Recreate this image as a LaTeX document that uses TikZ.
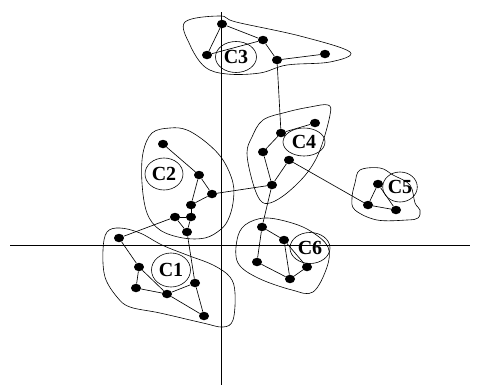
\documentclass[tikz,border=0pt]{standalone}
\usepackage{fontspec}
\setmainfont{Liberation Serif}
\usetikzlibrary{shapes.geometric}
\tikzset{
  pt/.style={ellipse,fill=black,minimum width=10pt,minimum height=8.5pt,inner sep=0pt},
  clab/.style={ellipse,draw=black,line width=0.6pt,minimum width=40pt,minimum height=31pt,
    inner sep=0pt,font=\fontsize{20}{22}\selectfont\bfseries},
  cedge/.style={line width=0.65pt},
  blob/.style={line width=0.6pt},
  axis/.style={line width=0.7pt},
}
\begin{document}
\begin{tikzpicture}[x=1pt,y=-1pt]
  \useasboundingbox (0,0) rectangle (477,391);
  % axes
  \coordinate (ytop) at (221,12);
  \coordinate (ybot) at (221,385);
  \coordinate (xl) at (10,245);
  \coordinate (xr) at (470,245);
  \draw[axis] (ytop) -- (ybot);
  \draw[axis] (xl) -- (xr);
  % cluster outlines
  \draw[blob] plot[smooth cycle,tension=0.6] coordinates {(185,22) (220,16) (236,22) (300,36)
    (350,52) (330,62) (287,65) (260,73) (227,74) (205,67) (190,45)};
  \draw[blob] plot[smooth cycle,tension=0.6] coordinates {(152,133) (170,128) (187,130) (207,143)
    (223,160) (233,183) (233,203) (228,220) (220,230) (205,238) (183,238) (160,230) (147,213)
    (142,183) (143,153)};
  \draw[blob] plot[smooth cycle,tension=0.6] coordinates {(263,120) (287,112) (310,107) (328,105)
    (330,115) (320,150) (307,173) (287,193) (270,203) (260,200) (252,180) (247,153) (252,137)};
  \draw[blob] plot[smooth cycle,tension=0.6] coordinates {(360,170) (380,168) (393,175) (410,185)
    (415,203) (420,210) (418,218) (407,220) (377,220) (355,210) (352,198) (355,183)};
  \draw[blob] plot[smooth cycle,tension=0.6] coordinates {(245,225) (265,218) (292,223) (312,232)
    (328,247) (327,267) (313,292) (292,290) (258,278) (238,263) (237,240)};
  \draw[blob] plot[smooth cycle,tension=0.6] coordinates {(107,232) (120,228) (140,233) (162,245)
    (187,255) (213,265) (230,277) (235,293) (233,320) (223,327) (203,323) (160,313) (130,307)
    (117,297) (105,277) (103,250)};
  % labels
  \node[clab,minimum width=41pt] (l3) at (236,57) {C3};
  \node[clab,minimum width=38pt,minimum height=32pt] (l2) at (164,174) {C2};
  \node[clab,minimum width=42pt,minimum height=28pt] (l4) at (304,142) {C4};
  \node[clab,minimum width=34pt,minimum height=30pt] (l5) at (400,187) {C5};
  \node[clab] (l6) at (310,248) {C6};
  \node[clab,minimum width=39pt,minimum height=34pt] (l1) at (171,270) {C1};
  % points
  \foreach \n/\p in {c3a/{222,24},c3b/{263,40},c3c/{207,55},c3d/{277,60},c3e/{325,54},
    c4a/{315,123},c4b/{281,133},c4c/{263,152},c4d/{289,160},c4e/{272,185},
    c2a/{163,144},c2b/{199,175},c2c/{212,194},c2d/{191,205},c2e/{175,217},c2f/{191,217},c2g/{187,232},
    c1a/{119,238},c1b/{139,267},c1c/{136,288},c1d/{167,294},c1e/{195,283},c1f/{204,316},
    c5a/{378,184},c5b/{368,205},c5c/{396,210},
    c6a/{262,227},c6b/{284,240},c6c/{257,262},c6d/{307,267},c6e/{290,279}}
    \node[pt] (\n) at (\p) {};
  % edges
  \foreach \u/\v in {c3a/c3c,c3a/c3b,c3c/c3b,c3b/c3d,c3d/c3e,c3d/c4b,
    c4b/c4a,c4b/c4c,c4c/c4e,c4d/c4e,c4d/c5b,c4e/c2c,c4e/c6a,
    c2a/c2b,c2b/c2c,c2b/c2d,c2c/c2d,c2d/c2f,c2e/c2f,c2e/c2g,c2f/c2g,c2e/c1a,c2g/c1e,
    c1a/c1b,c1b/c1c,c1b/c1d,c1c/c1d,c1d/c1e,c1d/c1f,c1e/c1f,
    c5a/c5b,c5a/c5c,c5b/c5c,
    c6a/c6b,c6a/c6c,c6c/c6e,c6b/c6e,c6b/c6d,c6d/c6e}
    \draw[cedge] (\u) -- (\v);
\end{tikzpicture}
\end{document}
